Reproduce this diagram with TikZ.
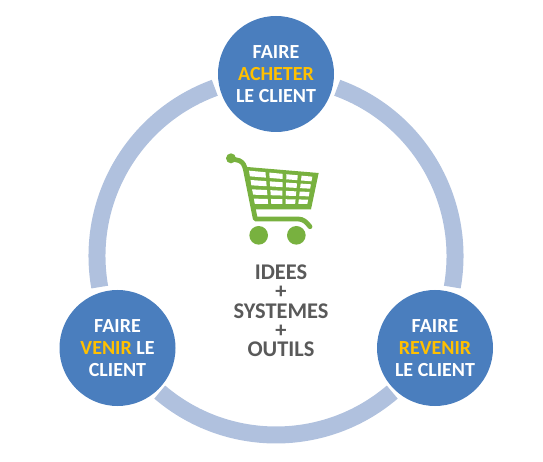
\documentclass[tikz,border=0pt]{standalone}
\usepackage{fontspec}
\setmainfont{Carlito}
\usetikzlibrary{calc}
\definecolor{stepBlue}{HTML}{4A7EBE}
\definecolor{ringBlue}{HTML}{B0C1DE}
\definecolor{wordGold}{HTML}{FFC000}
\definecolor{cartGreen}{HTML}{78B13F}
\definecolor{hubGray}{HTML}{595959}
\newcommand{\gold}[1]{\textcolor{wordGold}{#1}}

\begin{document}
\begin{tikzpicture}[
    x=0.75pt,
    y=0.75pt,
    step_node/.style={
        circle,
        fill=stepBlue,
        minimum size=87pt,
        inner sep=0pt,
        align=center,
        text=white,
        font=\bfseries\fontsize{15}{16.3}\selectfont
    },
    hub_label/.style={
        align=center,
        text=hubGray,
        font=\bfseries\fontsize{16.8}{14.5}\selectfont
    },
    ring_arc/.style={
        draw=ringBlue,
        line width=12.75pt
    },
    cart_line/.style={
        draw=cartGreen,
        line width=3.6pt,
        line join=round,
        line cap=round
    }
]
    \useasboundingbox (0,0) rectangle (543,461);

    % Ring
    \coordinate (hub) at (276,205);
    \draw[ring_arc] ([shift={(70:134.25pt)}]hub) arc (70:-10:134.25pt);
    \draw[ring_arc] ([shift={(110:134.25pt)}]hub) arc (110:190:134.25pt);
    \draw[ring_arc] ([shift={(229.5:134.25pt)}]hub) arc (229.5:310.5:134.25pt);

    % Step Layer
    \node[step_node] (buy) at (276,387) {
        FAIRE\\
        \gold{ACHETER}\\
        LE CLIENT
    };
    \node[step_node] (come) at (117.5,113) {
        FAIRE\\
        \gold{VENIR} LE\\
        CLIENT
    };
    \node[step_node] (back) at (435,113) {
        FAIRE\\
        \gold{REVENIR}\\
        LE CLIENT
    };

    % Hub Text
    \node[hub_label] (tools) at (281,150) {
        IDEES\\
        +\\
        SYSTEMES\\
        +\\
        OUTILS
    };

    % Cart, in coordinates of the zoomed crop
    \begin{scope}[shift={(200,331)}, x=0.25pt, y=-0.25pt]
        \fill[cartGreen] (130,110) -- (356,129) -- (333,238) -- (158,238) -- cycle;
        \foreach \ua/\ub in {0/.26, .32/.53, .59/.77, .83/1} {
            \foreach \va/\vb in {0/.17, .28/.44, .56/.72, .84/1} {
                \fill[white]
                    ($($(147,122)!\ua!(337,140)$)!\va!($(163,222)!\ua!(322,222)$)$) --
                    ($($(147,122)!\ub!(337,140)$)!\va!($(163,222)!\ub!(322,222)$)$) --
                    ($($(147,122)!\ub!(337,140)$)!\vb!($(163,222)!\ub!(322,222)$)$) --
                    ($($(147,122)!\ua!(337,140)$)!\vb!($(163,222)!\ua!(322,222)$)$) -- cycle;
            }
        }
        \draw[cart_line] (94,86) -- (118,92) .. controls (130,97) and (134,108) .. (137,122)
            -- (166,267) -- (295,267) .. controls (310,267) and (320,277) .. (330,290);
        \fill[cartGreen] (93,85) circle (15);
        \fill[cartGreen] (176,316) circle (28);
        \fill[cartGreen] (289,316) circle (28);
    \end{scope}
\end{tikzpicture}
\end{document}
